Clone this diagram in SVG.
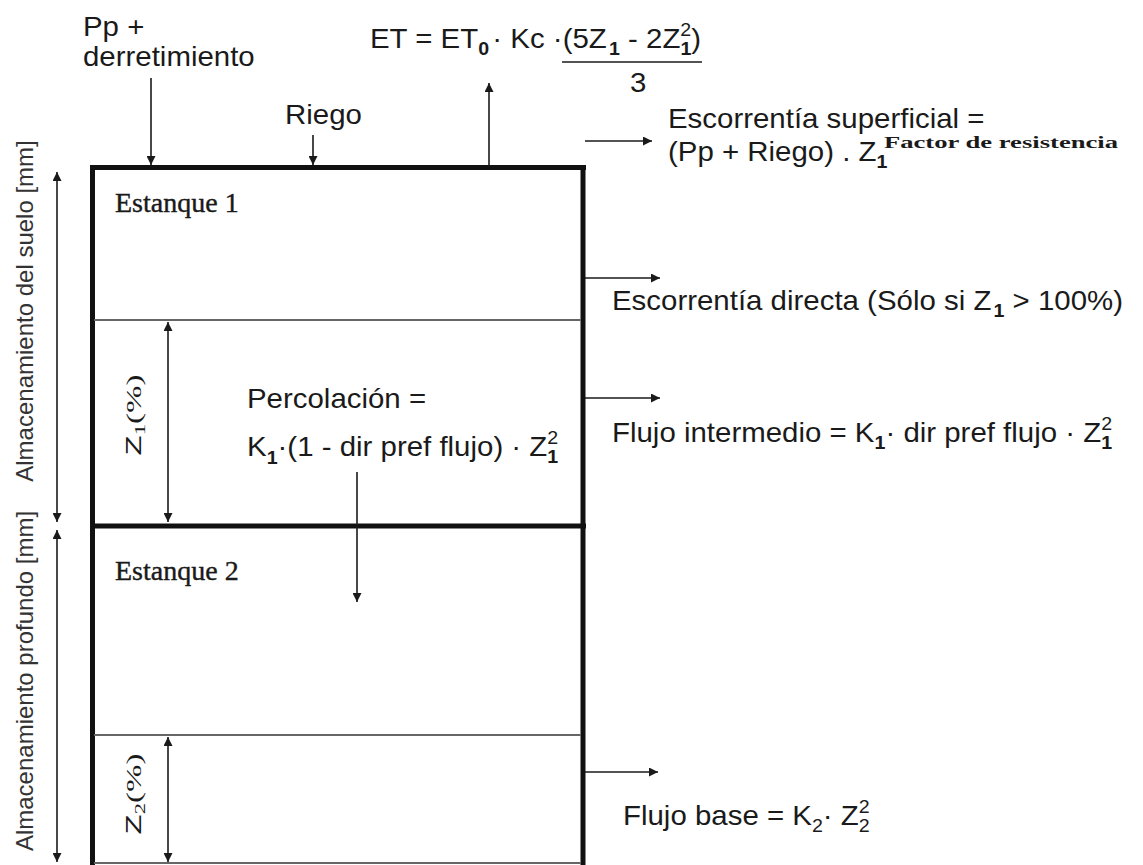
<svg xmlns="http://www.w3.org/2000/svg" width="1143" height="865" viewBox="0 0 1143 865">
<style>
.t{font-family:"Liberation Sans",Arial,sans-serif;font-size:27px;fill:#1a1a1a}
.s{font-size:18px}
.b{font-weight:bold}
.r{font-family:"Liberation Sans",Arial,sans-serif;font-size:24px;fill:#333}
.tm{font-family:"Liberation Serif","Times New Roman",serif;font-size:28px;fill:#1a1a1a;stroke:#1a1a1a;stroke-width:0.4}
.con line{stroke:#1a1a1a;stroke-width:1.6;fill:none}
.thick{stroke:#111;stroke-width:5;fill:none}
.thin{stroke:#666;stroke-width:2;fill:none}
</style>
<defs>
<marker id="ah" viewBox="0 0 10 10" refX="10" refY="5" markerWidth="10" markerHeight="9" markerUnits="userSpaceOnUse" orient="auto-start-reverse">
<path d="M0,0 L10,5 L0,10 z" fill="#1a1a1a"/>
</marker>
</defs>
<rect width="1143" height="865" fill="#fff"/>

<g id="tank1">
<line class="thick" x1="90" y1="167.5" x2="586" y2="167.5"/>
<line class="thick" x1="92.5" y1="165" x2="92.5" y2="526"/>
<line class="thick" x1="583" y1="165" x2="583" y2="526"/>
<line class="thin" x1="94" y1="320" x2="581" y2="320"/>
<text class="tm" x="115" y="212">Estanque 1</text>
</g>

<g id="tank2">
<line class="thick" x1="90" y1="526" x2="586" y2="526"/>
<line class="thick" x1="92.5" y1="524" x2="92.5" y2="865"/>
<line class="thick" x1="583" y1="524" x2="583" y2="865"/>
<line class="thin" x1="94" y1="735" x2="581" y2="735"/>
<line class="thin" x1="94" y1="863" x2="581" y2="863"/>
<text class="tm" x="115" y="580">Estanque 2</text>
</g>

<g id="connectors" class="con">
<line x1="151" y1="78" x2="151" y2="165" marker-end="url(#ah)"/>
<line x1="313" y1="135" x2="313" y2="165" marker-end="url(#ah)"/>
<line x1="489" y1="167" x2="489" y2="83" marker-end="url(#ah)"/>
<line x1="585" y1="141" x2="652" y2="141" marker-end="url(#ah)"/>
<line x1="585" y1="278" x2="660" y2="278" marker-end="url(#ah)"/>
<line x1="585" y1="398" x2="660" y2="398" marker-end="url(#ah)"/>
<line x1="585" y1="772" x2="658" y2="772" marker-end="url(#ah)"/>
<line x1="357" y1="472" x2="357" y2="602" marker-end="url(#ah)"/>
<line x1="57" y1="172" x2="57" y2="522" marker-start="url(#ah)" marker-end="url(#ah)"/>
<line x1="57" y1="530" x2="57" y2="862" marker-start="url(#ah)" marker-end="url(#ah)"/>
<line x1="168" y1="322" x2="168" y2="522" marker-start="url(#ah)" marker-end="url(#ah)"/>
<line x1="168" y1="737" x2="168" y2="862" marker-start="url(#ah)" marker-end="url(#ah)"/>
</g>

<g id="label-pp">
<text class="t" transform="translate(83 36) scale(1.09 1)">Pp +</text>
<text class="t" transform="translate(83 66) scale(1.09 1)">derretimiento</text>
</g>
<g id="label-riego">
<text class="t" transform="translate(285 124) scale(1.09 1)">Riego</text>
</g>

<g id="label-et">
<text class="t" transform="translate(370 48) scale(1.09 1)">ET = ET<tspan class="s b" dy="7">0</tspan><tspan dx="3" dy="-7">· Kc ·(5Z</tspan><tspan class="s b" dx="2" dy="7">1</tspan><tspan dy="-7"> - 2Z</tspan><tspan class="s" dy="-12">2</tspan><tspan class="s b" dx="-10" dy="19">1</tspan><tspan dy="-7">)</tspan></text>
<line x1="562" y1="62" x2="702" y2="62" stroke="#1a1a1a" stroke-width="1.6"/>
<text class="t" transform="translate(630 92) scale(1.09 1)">3</text>
</g>

<g id="label-superficial">
<text class="t" transform="translate(668 128) scale(1.09 1)">Escorrentía superficial =</text>
<text class="t" transform="translate(668 161) scale(1.09 1)">(Pp + Riego) . Z<tspan class="s b" dy="7">1</tspan></text>
<text x="884" y="148" font-family="'Liberation Serif','Times New Roman',serif" font-weight="bold" font-size="17" fill="#1a1a1a" textLength="234" lengthAdjust="spacingAndGlyphs">Factor de resistencia</text>
</g>

<g id="label-directa">
<text class="t" transform="translate(612 310) scale(1.09 1)">Escorrentía directa (Sólo si Z<tspan class="s b" dx="2" dy="7">1</tspan><tspan dy="-7">  &gt; 100%)</tspan></text>
</g>

<g id="label-intermedio">
<text class="t" transform="translate(612 442) scale(1.09 1)">Flujo intermedio = K<tspan class="s b" dy="7">1</tspan><tspan dy="-7">· dir pref flujo · Z</tspan><tspan class="s" dy="-12">2</tspan><tspan class="s b" dx="-10" dy="19">1</tspan></text>
</g>

<g id="label-percolacion">
<text class="t" transform="translate(247 408) scale(1.09 1)">Percolación =</text>
<text class="t" transform="translate(247 456) scale(1.09 1)">K<tspan class="s b" dy="8">1</tspan><tspan dy="-8">·(1 - dir pref flujo) · Z</tspan><tspan class="s" dy="-12">2</tspan><tspan class="s b" dx="-10" dy="19">1</tspan></text>
</g>

<g id="label-base">
<text class="t" transform="translate(623 825) scale(1.09 1)">Flujo base = K<tspan class="s" dy="7">2</tspan><tspan dy="-7">· Z</tspan><tspan class="s" dy="-12">2</tspan><tspan class="s" dx="-10" dy="19">2</tspan></text>
</g>

<g id="label-suelo">
<text class="r" text-anchor="middle" transform="translate(33 311) rotate(-90)">Almacenamiento del suelo [mm]</text>
</g>
<g id="label-profundo">
<text class="r" text-anchor="middle" transform="translate(33 681) rotate(-90)">Almacenamiento profundo [mm]</text>
</g>

<g id="label-z1">
<text transform="translate(141 415) rotate(-90) scale(1.5 1)" text-anchor="middle" font-family="'Liberation Sans',Arial,sans-serif" font-size="22" fill="#1a1a1a">Z<tspan font-family="'Liberation Serif',serif" font-size="15" dy="4">1</tspan><tspan font-family="'Liberation Serif',serif" dy="-4">(%)</tspan></text>
</g>
<g id="label-z2">
<text transform="translate(141 794) rotate(-90) scale(1.5 1)" text-anchor="middle" font-family="'Liberation Sans',Arial,sans-serif" font-size="22" fill="#1a1a1a">Z<tspan font-family="'Liberation Serif',serif" font-size="15" dy="4">2</tspan><tspan font-family="'Liberation Serif',serif" dy="-4">(%)</tspan></text>
</g>
</svg>
